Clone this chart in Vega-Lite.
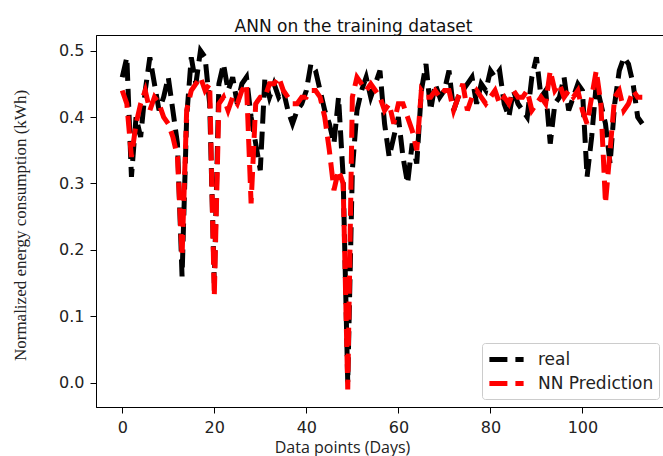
{
 "$schema": "https://vega.github.io/schema/vega-lite/v6.json",
 "width": 567, "height": 372,
 "autosize": {"type": "none"},
 "padding": {"left": 96, "top": 35, "right": 0, "bottom": 49},
 "background": "white",
 "title": {"text": "ANN on the training dataset", "fontSize": 17, "font": "DejaVu Sans", "fontWeight": "normal", "color": "#111", "baseline": "bottom", "offset": 5, "frame": "group", "anchor": "middle", "dy": 23, "dx": -26},
 "data": {"values": [
{"d":0,"real":0.46,"NN Prediction":0.44},{"d":1,"real":0.49,"NN Prediction":0.42},{"d":2,"real":0.31,"NN Prediction":0.34},{"d":3,"real":0.40,"NN Prediction":0.39},{"d":4,"real":0.37,"NN Prediction":0.42},{"d":5,"real":0.44,"NN Prediction":0.44},{"d":6,"real":0.49,"NN Prediction":0.41},{"d":7,"real":0.45,"NN Prediction":0.43},{"d":8,"real":0.41,"NN Prediction":0.42},{"d":9,"real":0.43,"NN Prediction":0.40},
{"d":10,"real":0.46,"NN Prediction":0.39},{"d":11,"real":0.41,"NN Prediction":0.37},{"d":12,"real":0.36,"NN Prediction":0.34},{"d":13,"real":0.16,"NN Prediction":0.19},{"d":14,"real":0.40,"NN Prediction":0.41},{"d":15,"real":0.49,"NN Prediction":0.44},{"d":16,"real":0.45,"NN Prediction":0.45},{"d":17,"real":0.50,"NN Prediction":0.46},{"d":18,"real":0.49,"NN Prediction":0.44},{"d":19,"real":0.42,"NN Prediction":0.45},
{"d":20,"real":0.15,"NN Prediction":0.13},{"d":21,"real":0.45,"NN Prediction":0.42},{"d":22,"real":0.48,"NN Prediction":0.43},{"d":23,"real":0.44,"NN Prediction":0.41},{"d":24,"real":0.46,"NN Prediction":0.43},{"d":25,"real":0.42,"NN Prediction":0.42},{"d":26,"real":0.45,"NN Prediction":0.44},{"d":27,"real":0.46,"NN Prediction":0.45},{"d":28,"real":0.40,"NN Prediction":0.27},{"d":29,"real":0.36,"NN Prediction":0.42},
{"d":30,"real":0.32,"NN Prediction":0.43},{"d":31,"real":0.46,"NN Prediction":0.43},{"d":32,"real":0.43,"NN Prediction":0.45},{"d":33,"real":0.45,"NN Prediction":0.45},{"d":34,"real":0.43,"NN Prediction":0.46},{"d":35,"real":0.44,"NN Prediction":0.44},{"d":36,"real":0.41,"NN Prediction":0.43},{"d":37,"real":0.39,"NN Prediction":0.42},{"d":38,"real":0.41,"NN Prediction":0.42},{"d":39,"real":0.42,"NN Prediction":0.43},
{"d":40,"real":0.44,"NN Prediction":0.43},{"d":41,"real":0.48,"NN Prediction":0.44},{"d":42,"real":0.47,"NN Prediction":0.44},{"d":43,"real":0.44,"NN Prediction":0.43},{"d":44,"real":0.41,"NN Prediction":0.40},{"d":45,"real":0.39,"NN Prediction":0.35},{"d":46,"real":0.36,"NN Prediction":0.29},{"d":47,"real":0.43,"NN Prediction":0.32},{"d":48,"real":0.31,"NN Prediction":0.30},{"d":49,"real":0.00,"NN Prediction":-0.01},
{"d":50,"real":0.32,"NN Prediction":0.43},{"d":51,"real":0.41,"NN Prediction":0.46},{"d":52,"real":0.44,"NN Prediction":0.45},{"d":53,"real":0.46,"NN Prediction":0.44},{"d":54,"real":0.43,"NN Prediction":0.45},{"d":55,"real":0.45,"NN Prediction":0.44},{"d":56,"real":0.47,"NN Prediction":0.43},{"d":57,"real":0.39,"NN Prediction":0.41},{"d":58,"real":0.34,"NN Prediction":0.42},{"d":59,"real":0.37,"NN Prediction":0.39},
{"d":60,"real":0.40,"NN Prediction":0.42},{"d":61,"real":0.34,"NN Prediction":0.42},{"d":62,"real":0.30,"NN Prediction":0.40},{"d":63,"real":0.36,"NN Prediction":0.38},{"d":64,"real":0.33,"NN Prediction":0.35},{"d":65,"real":0.44,"NN Prediction":0.44},{"d":66,"real":0.48,"NN Prediction":0.43},{"d":67,"real":0.41,"NN Prediction":0.43},{"d":68,"real":0.45,"NN Prediction":0.44},{"d":69,"real":0.43,"NN Prediction":0.43},
{"d":70,"real":0.44,"NN Prediction":0.44},{"d":71,"real":0.47,"NN Prediction":0.44},{"d":72,"real":0.41,"NN Prediction":0.41},{"d":73,"real":0.43,"NN Prediction":0.43},{"d":74,"real":0.44,"NN Prediction":0.45},{"d":75,"real":0.45,"NN Prediction":0.41},{"d":76,"real":0.46,"NN Prediction":0.43},{"d":77,"real":0.42,"NN Prediction":0.44},{"d":78,"real":0.45,"NN Prediction":0.43},{"d":79,"real":0.44,"NN Prediction":0.42},
{"d":80,"real":0.47,"NN Prediction":0.43},{"d":81,"real":0.46,"NN Prediction":0.44},{"d":82,"real":0.47,"NN Prediction":0.42},{"d":83,"real":0.42,"NN Prediction":0.43},{"d":84,"real":0.40,"NN Prediction":0.42},{"d":85,"real":0.44,"NN Prediction":0.44},{"d":86,"real":0.42,"NN Prediction":0.43},{"d":87,"real":0.41,"NN Prediction":0.43},{"d":88,"real":0.40,"NN Prediction":0.44},{"d":89,"real":0.46,"NN Prediction":0.41},
{"d":90,"real":0.49,"NN Prediction":0.42},{"d":91,"real":0.43,"NN Prediction":0.43},{"d":92,"real":0.44,"NN Prediction":0.42},{"d":93,"real":0.36,"NN Prediction":0.47},{"d":94,"real":0.42,"NN Prediction":0.44},{"d":95,"real":0.43,"NN Prediction":0.45},{"d":96,"real":0.46,"NN Prediction":0.43},{"d":97,"real":0.41,"NN Prediction":0.44},{"d":98,"real":0.43,"NN Prediction":0.43},{"d":99,"real":0.45,"NN Prediction":0.44},
{"d":100,"real":0.44,"NN Prediction":0.41},{"d":101,"real":0.31,"NN Prediction":0.39},{"d":102,"real":0.37,"NN Prediction":0.43},{"d":103,"real":0.45,"NN Prediction":0.47},{"d":104,"real":0.42,"NN Prediction":0.42},{"d":105,"real":0.39,"NN Prediction":0.27},{"d":106,"real":0.33,"NN Prediction":0.35},{"d":107,"real":0.42,"NN Prediction":0.43},{"d":108,"real":0.47,"NN Prediction":0.44},{"d":109,"real":0.49,"NN Prediction":0.41},
{"d":110,"real":0.48,"NN Prediction":0.42},{"d":111,"real":0.45,"NN Prediction":0.44},{"d":112,"real":0.40,"NN Prediction":0.43},{"d":113,"real":0.39,"NN Prediction":0.43}
 ]},
 "transform": [{"fold": ["real", "NN Prediction"], "as": ["series", "value"]}],
 "mark": {"type": "line", "strokeWidth": 5, "strokeDash": [18, 8], "clip": true},
 "encoding": {
  "x": {"field": "d", "type": "quantitative",
   "scale": {"domain": [-5.7, 117.5], "nice": false, "zero": false},
   "axis": {"values": [0, 20, 40, 60, 80, 100], "title": "Data points (Days)", "titleFont": "Open Sans", "titleFontSize": 16, "titleFontWeight": "normal", "titleColor": "#222", "titleX": 246, "titleY": 45, "titleBaseline": "alphabetic", "titleAnchor": "middle", "titleAlign": "center"}},
  "y": {"field": "value", "type": "quantitative",
   "scale": {"domain": [-0.0366, 0.5236], "nice": false, "zero": false},
   "axis": {"values": [0, 0.1, 0.2, 0.3, 0.4, 0.5], "format": ".1f", "title": "Normalized energy consumption (kWh)", "titleFont": "Liberation Serif", "titleFontSize": 17, "titleFontWeight": "normal", "titleColor": "#222", "titleX": -76, "titleY": 190, "titleBaseline": "middle", "titleAngle": -90, "titleAlign": "center"}},
  "color": {"field": "series", "type": "nominal",
   "scale": {"domain": ["real", "NN Prediction"], "range": ["#000000", "#ff0000"]},
   "legend": {"orient": "none", "legendX": 386, "legendY": 308, "title": null, "symbolType": "M-1.9,0H1.9", "symbolStrokeWidth": 5, "symbolDash": [18, 8], "symbolSize": 324, "symbolOffset": 8, "labelFontSize": 17, "labelFont": "DejaVu Sans", "labelColor": "#222", "strokeColor": "#cccccc", "fillColor": "white", "cornerRadius": 3, "padding": 5, "rowPadding": 2, "labelOffset": 20}}
 },
 "config": {
  "view": {"stroke": "#000", "strokeWidth": 1},
  "axis": {"grid": false, "domainColor": "#000", "tickColor": "#000", "tickSize": 6, "labelFontSize": 16, "labelFont": "DejaVu Sans", "labelColor": "#222", "labelPadding": 6}
 }
}
